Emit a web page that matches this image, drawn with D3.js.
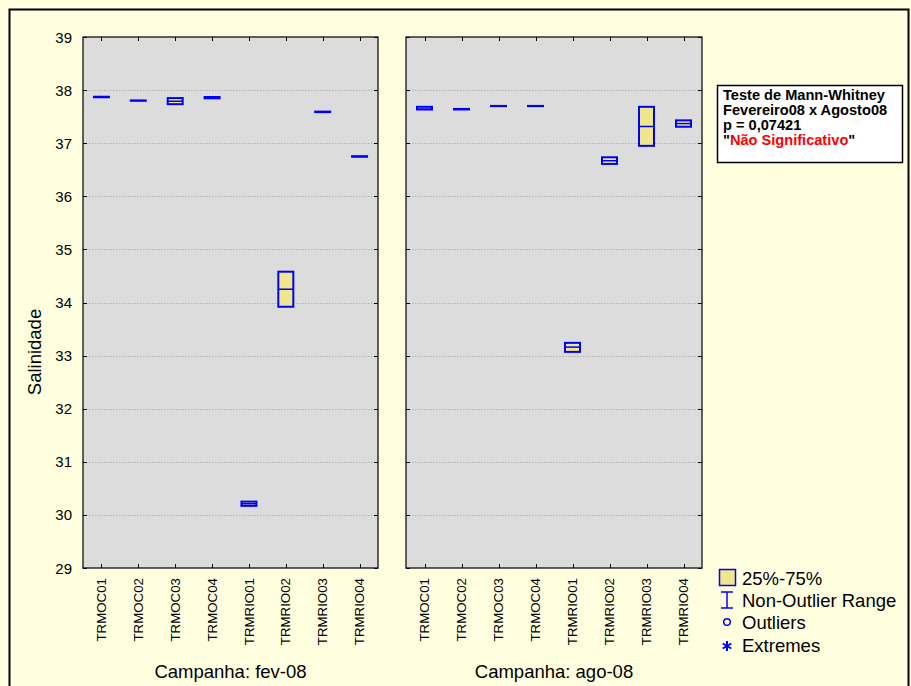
<!DOCTYPE html>
<html>
<head>
<meta charset="utf-8">
<script src="https://cdn.jsdelivr.net/npm/d3@7/dist/d3.min.js"></script>
<style>
  html, body { margin: 0; padding: 0; background: #FFFFE0; }
  svg { display: block; font-family: "Liberation Sans", Arial, Helvetica, sans-serif; }
</style>
</head>
<body>
<svg id="chart" width="911" height="686"></svg>
<script>
// Sampling stations (same order in both campaigns)
const stations = ["TRMOC01", "TRMOC02", "TRMOC03", "TRMOC04", "TRMRIO01", "TRMRIO02", "TRMRIO03", "TRMRIO04"];
const campaigns = ["Campanha: fev-08", "Campanha: ago-08"];

// Salinity summaries per station — February 2008
const fevQ1     = [37.865, 37.800, 37.735, 37.845, 30.170, 33.920, 37.585, 36.745];
const fevMedian = [37.870, 37.802, 37.790, 37.860, 30.210, 34.250, 37.590, 36.750];
const fevQ3     = [37.875, 37.805, 37.850, 37.870, 30.250, 34.580, 37.595, 36.755];
const fevMin    = [37.865, 37.800, 37.735, 37.845, 30.170, 33.920, 37.585, 36.745];
const fevMax    = [37.875, 37.805, 37.850, 37.870, 30.250, 34.580, 37.595, 36.755];

// Salinity summaries per station — August 2008
const agoQ1     = [37.635, 37.635, 37.698, 37.698, 33.070, 36.610, 36.950, 37.310];
const agoMedian = [37.640, 37.640, 37.700, 37.700, 33.160, 36.670, 37.315, 37.370];
const agoQ3     = [37.685, 37.645, 37.702, 37.702, 33.240, 36.735, 37.685, 37.430];
const agoMin    = [37.635, 37.635, 37.698, 37.698, 33.070, 36.610, 36.950, 37.310];
const agoMax    = [37.685, 37.645, 37.702, 37.702, 33.240, 36.735, 37.685, 37.430];

const yTicks = [29, 30, 31, 32, 33, 34, 35, 36, 37, 38, 39];
const yLabel = "Salinidade";
const testLines = ["Teste de Mann-Whitney", "Fevereiro08 x Agosto08", "p = 0,07421"];
const testResult = "Não Significativo";
const legendItems = ["25%-75%", "Non-Outlier Range", "Outliers", "Extremes"];

const BLUE = "#0000FF", FILL = "#F0E68C", PANEL = "#DCDCDC";

const svg = d3.select("#chart");

// outer frame
svg.append("rect").attr("x", 9.5).attr("y", 9.5).attr("width", 899).attr("height", 720)
  .attr("fill", "#FFFFE0").attr("stroke", "#000").attr("stroke-width", 2);

const plotTop = 37, plotBottom = 568;
const y = d3.scaleLinear().domain([29, 39]).range([plotBottom, plotTop]);

const panels = [
  { name: campaigns[0], x0: 83, x1: 378, q1: fevQ1, med: fevMedian, q3: fevQ3, lo: fevMin, hi: fevMax },
  { name: campaigns[1], x0: 406, x1: 702, q1: agoQ1, med: agoMedian, q3: agoQ3, lo: agoMin, hi: agoMax }
];

panels.forEach((p, pi) => {
  const x = d3.scaleBand().domain(stations).range([p.x0, p.x1]).padding(0);
  const g = svg.append("g");

  g.append("rect").attr("x", p.x0).attr("y", plotTop).attr("width", p.x1 - p.x0).attr("height", plotBottom - plotTop)
    .attr("fill", PANEL);

  // dotted grid
  g.selectAll("line.grid").data(yTicks.slice(1, -1)).join("line")
    .attr("x1", p.x0).attr("x2", p.x1)
    .attr("y1", d => Math.round(y(d)) + 0.5).attr("y2", d => Math.round(y(d)) + 0.5)
    .attr("stroke", "#B4B4B4").attr("stroke-dasharray", "1.5,1.5").attr("stroke-width", 1);

  // inward ticks on every side
  const tl = 4;
  yTicks.forEach(v => {
    const yy = Math.round(y(v)) + 0.5;
    g.append("line").attr("x1", p.x0).attr("x2", p.x0 + tl).attr("y1", yy).attr("y2", yy).attr("stroke", "#000");
    g.append("line").attr("x1", p.x1 - tl).attr("x2", p.x1).attr("y1", yy).attr("y2", yy).attr("stroke", "#000");
  });
  stations.forEach(s => {
    const xx = Math.round(x(s) + x.bandwidth() / 2) + 0.5;
    g.append("line").attr("x1", xx).attr("x2", xx).attr("y1", plotTop).attr("y2", plotTop + tl).attr("stroke", "#000");
    g.append("line").attr("x1", xx).attr("x2", xx).attr("y1", plotBottom - tl).attr("y2", plotBottom).attr("stroke", "#000");
  });

  // boxes
  const bw = 15;
  stations.forEach((s, i) => {
    const cx = x(s) + x.bandwidth() / 2;
    const yTop = y(p.q3[i]), yBot = y(p.q1[i]);
    // whiskers (non-outlier range)
    g.append("line").attr("x1", cx).attr("x2", cx).attr("y1", y(p.hi[i])).attr("y2", yTop)
      .attr("stroke", BLUE).attr("stroke-width", 1.5);
    g.append("line").attr("x1", cx).attr("x2", cx).attr("y1", yBot).attr("y2", y(p.lo[i]))
      .attr("stroke", BLUE).attr("stroke-width", 1.5);
    g.append("rect").attr("x", cx - bw / 2).attr("y", yTop).attr("width", bw).attr("height", Math.max(0.01, yBot - yTop))
      .attr("fill", FILL).attr("stroke", BLUE).attr("stroke-width", 2);
    g.append("line").attr("x1", cx - bw / 2).attr("x2", cx + bw / 2)
      .attr("y1", y(p.med[i])).attr("y2", y(p.med[i]))
      .attr("stroke", BLUE).attr("stroke-width", 1.5);
  });

  g.append("rect").attr("x", p.x0).attr("y", plotTop).attr("width", p.x1 - p.x0).attr("height", plotBottom - plotTop)
    .attr("fill", "none").attr("stroke", "#111").attr("stroke-width", 1.3);

  // category labels
  stations.forEach(s => {
    const cx = x(s) + x.bandwidth() / 2;
    g.append("text").attr("transform", `translate(${cx + 4.6},${plotBottom + 10}) rotate(-90)`)
      .attr("text-anchor", "end").attr("font-size", 13.3).attr("fill", "#000").text(s);
  });

  g.append("text").attr("x", (p.x0 + p.x1) / 2).attr("y", 678).attr("text-anchor", "middle")
    .attr("font-size", 18.5).attr("fill", "#000").text(p.name);

  // y tick labels on the first panel
  if (pi === 0) {
    g.selectAll("text.yt").data(yTicks).join("text")
      .attr("x", 72).attr("y", d => y(d) + 5.5).attr("text-anchor", "end")
      .attr("font-size", 15).attr("fill", "#000").text(d => d);
  }
});

svg.append("text").attr("transform", "translate(41,352) rotate(-90)").attr("text-anchor", "middle")
  .attr("font-size", 18.5).attr("fill", "#000").text(yLabel);

// test result box
const tb = svg.append("g");
const lineH = 15.3, tFont = 14.6;
tb.append("rect").attr("x", 717.5).attr("y", 85.5).attr("width", 185).attr("height", 77)
  .attr("fill", "#fff").attr("stroke", "#000").attr("stroke-width", 1.5);
testLines.forEach((t, i) => {
  tb.append("text").attr("x", 723).attr("y", 99.5 + i * lineH).attr("font-size", tFont)
    .attr("font-weight", "bold").attr("fill", "#000").text(t);
});
const lastLine = tb.append("text").attr("x", 723).attr("y", 99.5 + 3 * lineH).attr("font-size", tFont)
  .attr("font-weight", "bold");
lastLine.append("tspan").attr("fill", "#000").text("\"");
lastLine.append("tspan").attr("fill", "#FF0000").text(testResult);
lastLine.append("tspan").attr("fill", "#000").text("\"");

// legend
const lg = svg.append("g");
const lx = 727;
lg.append("rect").attr("x", 719.5).attr("y", 569.5).attr("width", 16).attr("height", 16)
  .attr("fill", FILL).attr("stroke", BLUE).attr("stroke-width", 1.5);
lg.append("line").attr("x1", lx).attr("x2", lx).attr("y1", 592).attr("y2", 608).attr("stroke", BLUE).attr("stroke-width", 1.5);
lg.append("line").attr("x1", lx - 6).attr("x2", lx + 6).attr("y1", 592).attr("y2", 592).attr("stroke", BLUE).attr("stroke-width", 1.5);
lg.append("line").attr("x1", lx - 6).attr("x2", lx + 6).attr("y1", 608).attr("y2", 608).attr("stroke", BLUE).attr("stroke-width", 1.5);
lg.append("circle").attr("cx", lx).attr("cy", 622).attr("r", 3.3).attr("fill", "none").attr("stroke", BLUE).attr("stroke-width", 1.5);
lg.append("path").attr("transform", `translate(${lx},646)`)
  .attr("d", d3.symbol().type(d3.symbolAsterisk).size(70)())
  .attr("fill", "none").attr("stroke", BLUE).attr("stroke-width", 2);
const lys = [585, 607, 629, 652];
legendItems.forEach((t, i) => {
  lg.append("text").attr("x", 742).attr("y", lys[i]).attr("font-size", 18.5).attr("fill", "#000").text(t);
});
</script>
</body>
</html>
